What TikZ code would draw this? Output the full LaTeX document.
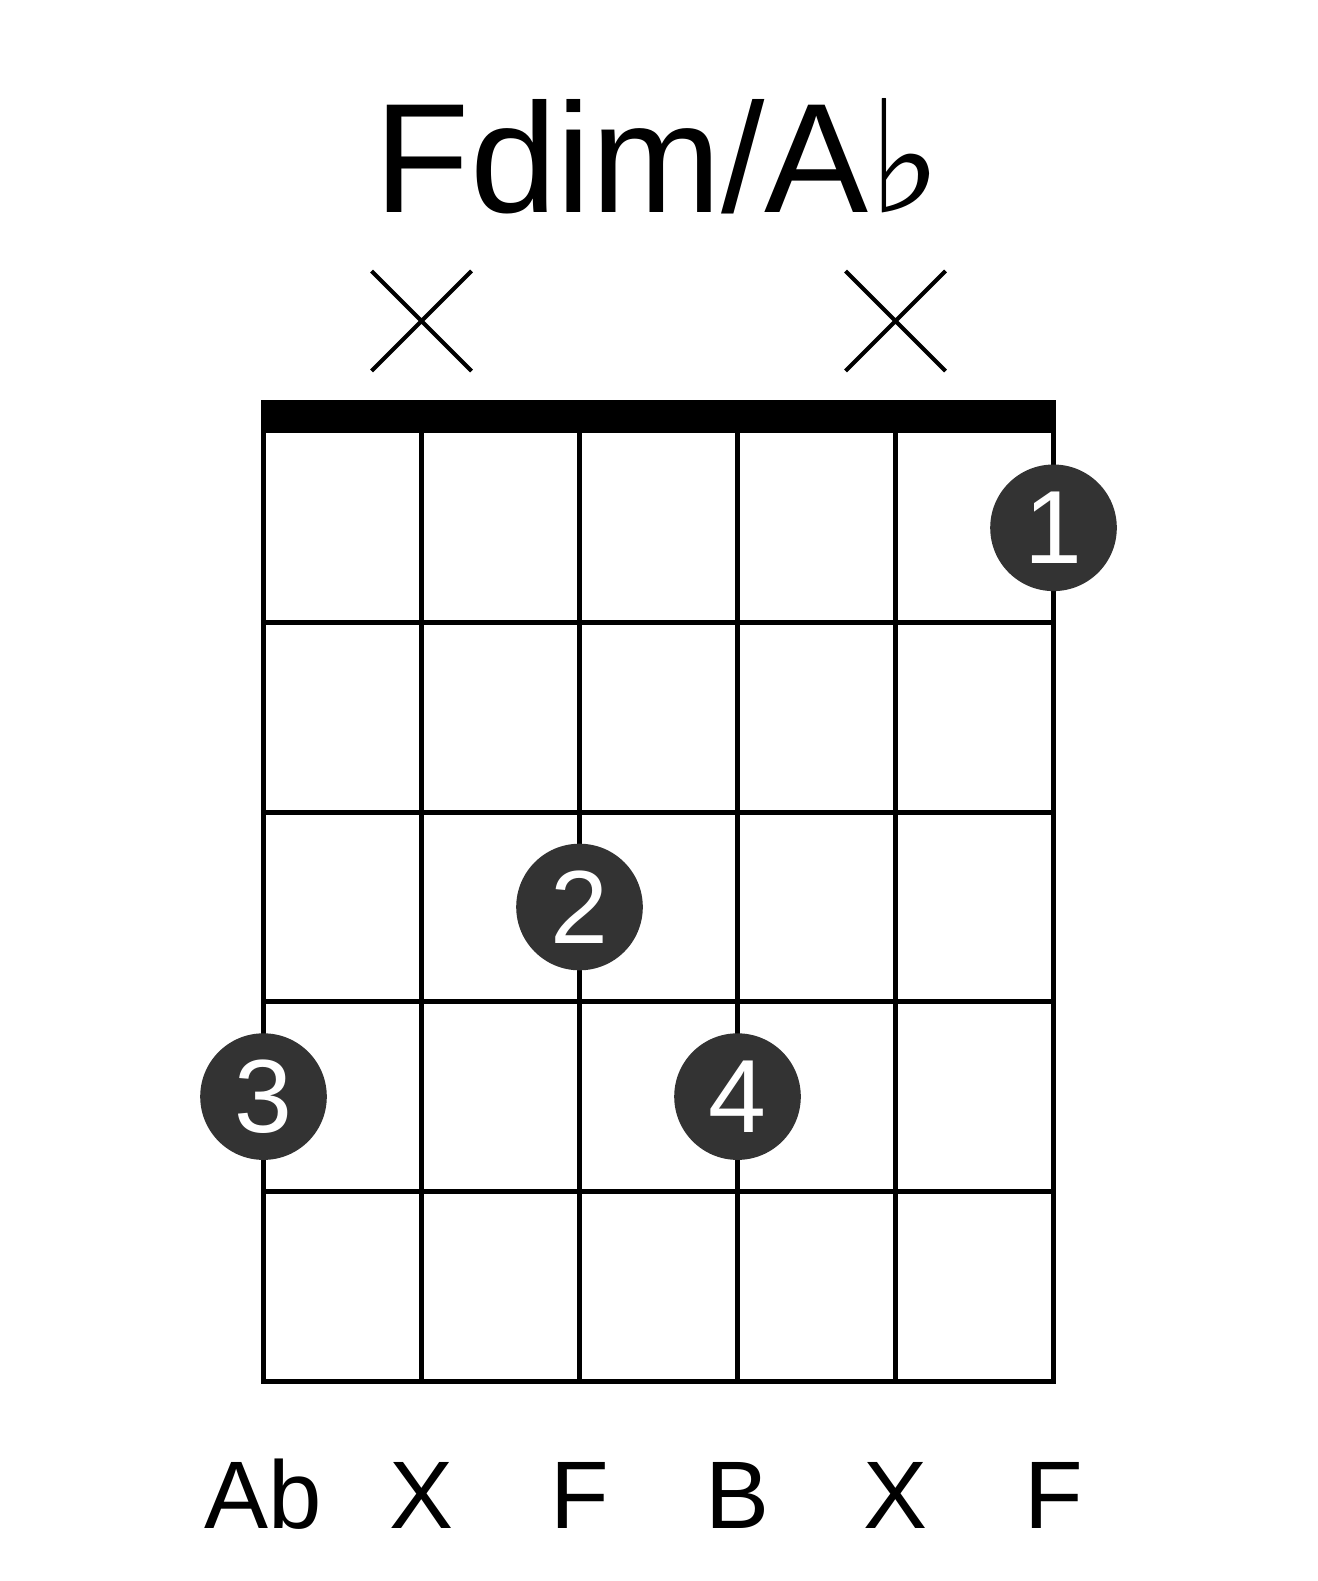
\documentclass[tikz,border=0pt]{standalone}
\usepackage{fontspec}
\setmainfont{Liberation Sans}
\newfontfamily\symfont{DejaVu Sans}
\usetikzlibrary{positioning,shapes.misc}
\definecolor{dotgray}{HTML}{333333}
\tikzset{
  finger/.style={circle,fill=dotgray,text=white,minimum size=126.6pt,inner sep=0pt,font=\fontsize{104}{104}\selectfont},
  mute/.style={cross out,draw,line width=4pt,minimum size=96pt,inner sep=0pt},
  note/.style={anchor=base,inner sep=0pt,font=\fontsize{96}{96}\selectfont},
}

\begin{document}
\begin{tikzpicture}[x=1pt,y=-1pt,line width=5pt]
\useasboundingbox (0,0) rectangle (1317,1581);
%标题
\node[anchor=base,inner sep=0pt] (title) at (658.5,212) {\fontsize{156}{156}\selectfont Fdim/A{\symfont ♭}};

%弦
\foreach \i in {1,...,6}{
\coordinate (S\i) at ({263.5+158*(\i-1)},433);
\coordinate (E\i) at ({263.5+158*(\i-1)},1381);
\draw (S\i) -- (E\i);
}
%品丝
\foreach \k in {1,...,5}
\draw[line cap=rect] (263.5,{433+189.6*\k}) -- (1053.5,{433+189.6*\k});
\fill (261,400) rectangle (1056,433);%琴枕

%不弹的弦
\node[mute] (X2) at (S2 |- 0,321) {};
\node[mute] (X5) at (S5 |- 0,321) {};

%手指
\node[finger] (F1) at (S6 |- 0,527.8) {1};
\node[finger] (F2) at (S3 |- 0,907) {2};
\node[finger] (F3) at (S1 |- 0,1096.6) {3};
\node[finger] (F4) at (S4 |- 0,1096.6) {4};

%音名
\foreach \i/\t in {1/Ab,2/X,3/F,4/B,5/X,6/F}
\node[note] (N\i) at (S\i |- 0,1528) {\t};

\end{tikzpicture}
\end{document}
